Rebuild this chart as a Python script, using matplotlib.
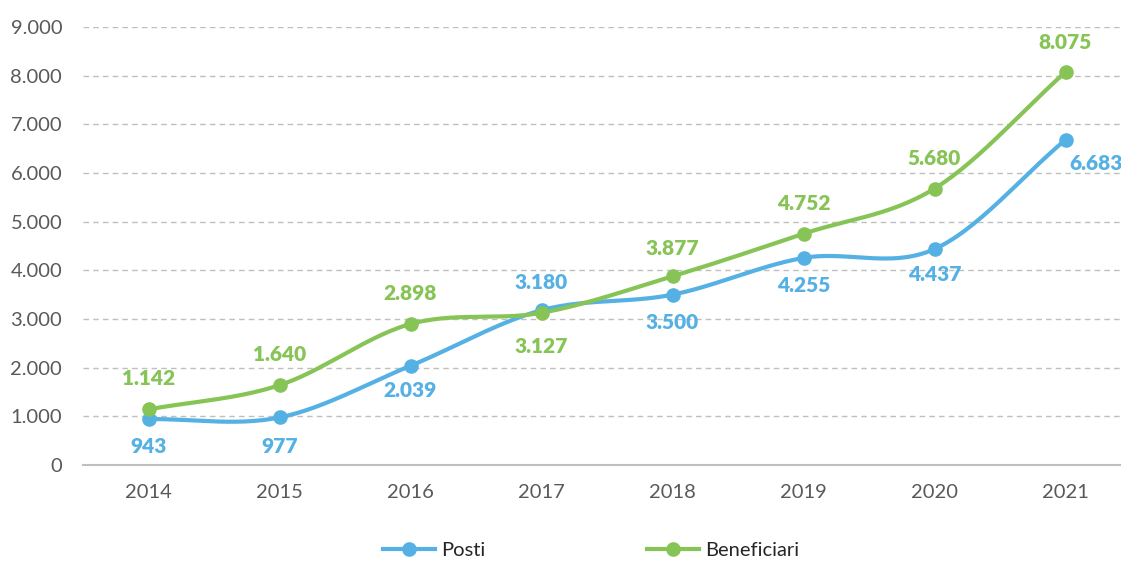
import numpy as np
import matplotlib.pyplot as plt

anni = ['2014', '2015', '2016', '2017', '2018', '2019', '2020', '2021']
posti = [943, 977, 2039, 3180, 3500, 4255, 4437, 6683]
beneficiari = [1142, 1640, 2898, 3127, 3877, 4752, 5680, 8075]

blu = '#55B1E4'
verde = '#87C456'

# posizione delle etichette (offset in punti)
off_posti = [(0, -20), (0, -21), (0, -18), (0, 20), (0, -20), (0, -20), (0, -18), (22, -17)]
off_benef = [(0, 22), (0, 22), (0, 22), (0, -24), (0, 20), (0, 22), (0, 22), (0, 21)]

plt.rcParams['font.family'] = ['Lato', 'DejaVu Sans']


def smooth(y, n=30):
    # curva tipo Excel (Catmull-Rom)
    y = np.asarray(y, dtype=float)
    p = np.concatenate([[2 * y[0] - y[1]], y, [2 * y[-1] - y[-2]]])
    xs, ys = [], []
    for i in range(len(y) - 1):
        t = np.linspace(0, 1, n, endpoint=False)
        p0, p1, p2, p3 = p[i], p[i + 1], p[i + 2], p[i + 3]
        yy = 0.5 * ((2 * p1) + (-p0 + p2) * t + (2 * p0 - 5 * p1 + 4 * p2 - p3) * t ** 2
                    + (-p0 + 3 * p1 - 3 * p2 + p3) * t ** 3)
        xs.append(i + t)
        ys.append(yy)
    xs.append([len(y) - 1])
    ys.append([y[-1]])
    return np.concatenate(xs), np.concatenate(ys)


fig = plt.figure(figsize=(11.21, 5.61), dpi=100)
ax = fig.add_axes([83 / 1121, 96 / 561, 1048 / 1121, 438 / 561])

x = np.arange(len(anni))
for vals, col, offs, lab in [(posti, blu, off_posti, 'Posti'),
                             (beneficiari, verde, off_benef, 'Beneficiari')]:
    sx, sy = smooth(vals)
    ax.plot(sx, sy, color=col, lw=3, solid_capstyle='round', zorder=3)
    ax.plot(x, vals, 'o', color=col, ms=9.5, zorder=4)
    ax.plot([], [], color=col, lw=3, marker='o', ms=9.5, label=lab)
    for xi, v, o in zip(x, vals, offs):
        ax.annotate(f'{v:,}'.replace(',', '.'), (xi, v), xytext=o, textcoords='offset points',
                    ha='center', va='center', color=col, fontsize=15, fontweight='heavy')

ax.set_xlim(-0.5, len(anni) - 0.5)
ax.set_ylim(0, 9000)
ax.set_yticks(range(0, 9001, 1000))
ax.set_yticklabels(['0' if v == 0 else f'{v:,}'.replace(',', '.') for v in range(0, 9001, 1000)])
ax.set_xticks(x)
ax.set_xticklabels(anni)
ax.tick_params(length=0, labelsize=14.5, labelcolor='#595959')
ax.tick_params(axis='y', pad=15)
ax.tick_params(axis='x', pad=14)
ax.grid(axis='y', color='#BFBFBF', ls=(0, (4, 3)), lw=1)
for s in ['top', 'right', 'left']:
    ax.spines[s].set_visible(False)
ax.spines['bottom'].set_color('#BFBFBF')
ax.spines['bottom'].set_linewidth(1.5)
ax.set_axisbelow(True)

leg = fig.legend(loc='center', bbox_to_anchor=(591 / 1121, 1 - 550 / 561), ncol=2, frameon=False,
                 fontsize=14.5, handlelength=2.6, columnspacing=8, handletextpad=0.3)
for t in leg.get_texts():
    t.set_color('#262626')

fig.savefig('out.png', dpi=100)
